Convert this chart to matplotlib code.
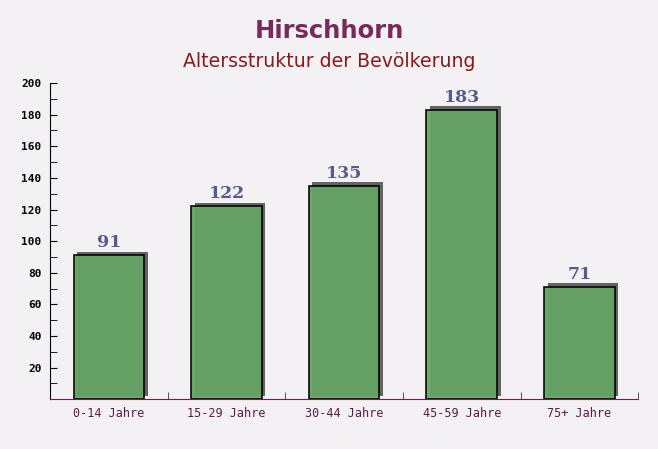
import matplotlib
matplotlib.use("Agg")
import matplotlib.pyplot as plt
from matplotlib.transforms import ScaledTranslation
from matplotlib.ticker import MultipleLocator, FixedLocator

categories = ["0-14 Jahre", "15-29 Jahre", "30-44 Jahre", "45-59 Jahre", "75+ Jahre"]
values = [91, 122, 135, 183, 71]
y_ticks = [20, 40, 60, 80, 100, 120, 140, 160, 180, 200]

fig = plt.figure(figsize=(6.58, 4.49), dpi=100)
fig.patch.set_facecolor("#f4f1f4")
ax = fig.add_axes([0.076, 0.111, 0.894, 0.704])
ax.set_facecolor("none")

x = list(range(len(categories)))

# shadow bars, shifted right/up in screen space
shadow = ax.transData + ScaledTranslation(3.5 / 100, 3.5 / 100, fig.dpi_scale_trans)
ax.bar(x, values, width=0.6, color="#4a4a4a", alpha=0.85, transform=shadow, zorder=2)
ax.bar(x, values, width=0.6, color="#65a365", alpha=0.95, edgecolor="black",
       linewidth=1.2, zorder=3)

for xi, v in zip(x, values):
    ax.text(xi, v + 2.5, str(v), ha="center", va="bottom", fontsize=12.5,
            fontweight="bold", family="DejaVu Serif", color="#555b8a", zorder=4)

ax.set_xlim(-0.5, len(categories) - 0.5)
ax.set_ylim(0, 200)

ax.set_xticks(x)
ax.set_xticklabels(categories, family="DejaVu Sans Mono", fontsize=8.5,
                   color="#5e1a48")
ax.tick_params(axis="x", length=0, pad=6)
ax.xaxis.set_minor_locator(FixedLocator([i + 0.5 for i in x]))
ax.tick_params(axis="x", which="minor", direction="in", length=5, color="#6b2050")

ax.set_yticks(y_ticks)
ax.set_yticklabels([str(t) for t in y_ticks], family="DejaVu Sans Mono",
                   fontsize=8, fontweight="bold")
ax.yaxis.set_minor_locator(MultipleLocator(10))
ax.tick_params(axis="y", which="both", direction="in", length=5, color="black", pad=6)

for s in ["top", "right"]:
    ax.spines[s].set_visible(False)
ax.spines["left"].set_color("black")
ax.spines["bottom"].set_color("#6b2050")

fig.text(0.5, 0.93, "Hirschhorn", ha="center", va="center", fontsize=17.5,
         fontweight="bold", color="#7a2a5a")
fig.text(0.5, 0.862, "Altersstruktur der Bevölkerung", ha="center", va="center",
         fontsize=13.6, color="#8b1a1a")

fig.savefig("out.png", dpi=100)
